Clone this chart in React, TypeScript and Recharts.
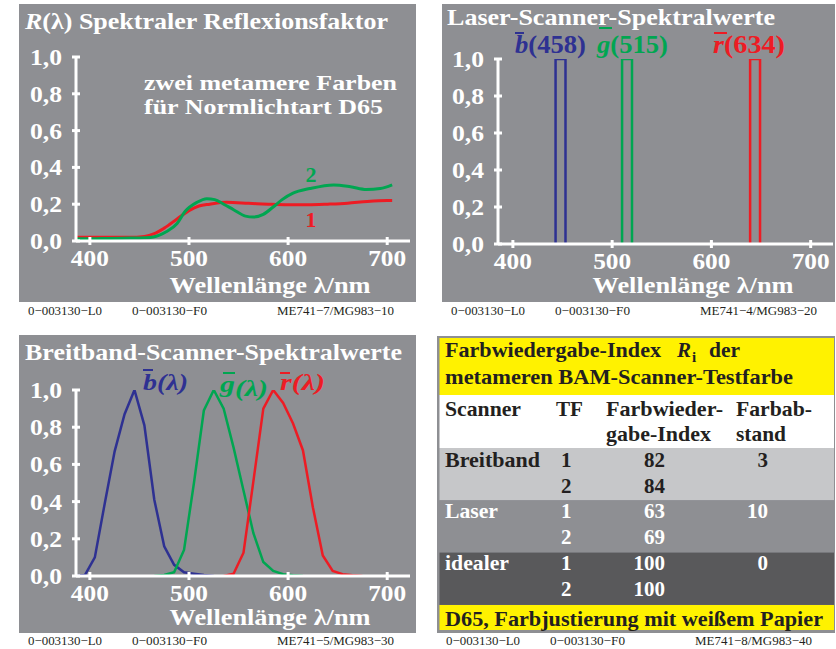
import React from 'react';
import { LineChart, Line, XAxis, YAxis } from 'recharts';

const FONT = '"Liberation Serif", "Times New Roman", serif';
const BG = '#8e8f93';
const BLUE = '#2e3192';
const GREEN = '#00a651';
const RED = '#ed1c24';
const YELLOW = '#fff200';
const INK = '#231f20';

// panel 1: two metameric reflectance curves
const metamerWl1 = [386, 400, 420, 440, 455, 465, 475, 488, 500, 510, 521, 538, 560, 580, 600, 620, 640, 660, 680, 700, 705];
const metamerR1 = [0.02, 0.02, 0.02, 0.02, 0.025, 0.04, 0.07, 0.12, 0.165, 0.19, 0.2, 0.21, 0.205, 0.2, 0.197, 0.197, 0.2, 0.205, 0.215, 0.22, 0.22];
const metamerWl2 = [386, 400, 420, 440, 455, 464, 477, 488, 496, 508, 518, 526, 535, 545, 557, 565, 575, 585, 594, 605, 622, 646, 663, 679, 693, 705];
const metamerR2 = [0.012, 0.012, 0.014, 0.016, 0.018, 0.022, 0.05, 0.095, 0.16, 0.21, 0.23, 0.225, 0.2, 0.17, 0.135, 0.13, 0.145, 0.185, 0.225, 0.26, 0.285, 0.305, 0.295, 0.28, 0.285, 0.305];

// panel 2: laser scanner lines (narrow boxes)
const laserBlueWl = [443, 443, 453, 453];
const laserGreenWl = [510, 510, 520, 520];
const laserRedWl = [639, 639, 649, 649];
const laserBox = [0, 1, 1, 0];

// panel 3: broadband scanner sensitivities
const bandBlueWl = [385, 395, 405, 415, 425, 435, 445, 455, 465, 475, 485, 495, 505, 515, 525];
const bandBlue = [0, 0.005, 0.1, 0.39, 0.67, 0.87, 1.0, 0.81, 0.41, 0.16, 0.06, 0.02, 0.012, 0.005, 0];
const bandGreenWl = [465, 475, 485, 495, 505, 515, 525, 535, 545, 555, 565, 575, 585, 595, 605, 615];
const bandGreen = [0, 0.005, 0.02, 0.14, 0.5, 0.89, 1.0, 0.9, 0.69, 0.46, 0.23, 0.075, 0.027, 0.01, 0.004, 0];
const bandRedWl = [535, 545, 555, 565, 575, 585, 595, 605, 615, 625, 635, 645, 655, 665, 675];
const bandRed = [0, 0.012, 0.125, 0.51, 0.9, 1.0, 0.93, 0.82, 0.675, 0.37, 0.11, 0.027, 0.01, 0.004, 0];

const yTicks = [0, 0.2, 0.4, 0.6, 0.8, 1.0];
const xTicks = [400, 500, 600, 700];

// panel 4: table
const tableRows = [
  { scanner: 'Breitband', w: 95, tf: ['1', '2'], index: ['82', '84'], dist: '3', bg: '#c6c7c9', fg: INK },
  { scanner: 'Laser', w: 53, tf: ['1', '2'], index: ['63', '69'], dist: '10', bg: BG, fg: '#ffffff' },
  { scanner: 'idealer', w: 64, tf: ['1', '2'], index: ['100', '100'], dist: '0', bg: '#59595b', fg: '#ffffff' },
];

const toRows = (wl: number[], v: number[]) => wl.map((w, i) => ({ wl: w, v: v[i] }));

const M = 14;

// text stretched to the width measured on the reference
function Txt({ x, y, w, size, fill, anchor, italic, bold = true, children }: any) {
  return (
    <text
      x={x} y={y} textLength={w} lengthAdjust="spacingAndGlyphs" textAnchor={anchor}
      fontFamily={FONT} fontWeight={bold ? 'bold' : 'normal'} fontStyle={italic ? 'italic' : 'normal'}
      fontSize={size} fill={fill}
    >
      {children}
    </text>
  );
}

function YTick(props: any) {
  const { x, y, payload } = props;
  const ax = x + M;
  return (
    <g>
      <line x1={ax - 4} x2={ax + 4} y1={y} y2={y} stroke="#fff" strokeWidth={3} />
      <Txt x={x} y={y + 8} w={32} size={23} fill="#fff" anchor="end">
        {payload.value.toFixed(1).replace('.', ',')}
      </Txt>
    </g>
  );
}

function XTick(props: any) {
  const { x, y, payload } = props;
  const ay = y - M;
  return (
    <g>
      <line x1={x} x2={x} y1={ay - 4} y2={ay + 4} stroke="#fff" strokeWidth={3} />
      <Txt x={x} y={ay + 25} w={38} size={23} fill="#fff" anchor="middle">
        {payload.value}
      </Txt>
    </g>
  );
}

interface Series { data: { wl: number; v: number }[]; color: string; type: 'linear' | 'monotone'; width: number }

function SpectrumChart({ left, top, width, height, yw, xh, mt, mr, domain, series }: {
  left: number; top: number; width: number; height: number; yw: number; xh: number; mt: number; mr: number;
  domain: [number, number]; series: Series[];
}) {
  return (
    <div style={{ position: 'absolute', left, top, width, height, background: BG }}>
      <LineChart width={width} height={height} margin={{ top: mt, right: mr, bottom: 0, left: 0 }}>
        <XAxis
          type="number" dataKey="wl" domain={domain} ticks={xTicks} height={xh}
          axisLine={{ stroke: '#fff', strokeWidth: 3 }} tickLine={false} tickSize={0} tickMargin={M}
          tick={(p: any) => <XTick {...p} />} allowDataOverflow
        />
        <YAxis
          type="number" dataKey="v" domain={[0, 1]} ticks={yTicks} width={yw}
          axisLine={{ stroke: '#fff', strokeWidth: 3 }} tickLine={false} tickSize={0} tickMargin={M}
          tick={(p: any) => <YTick {...p} />} allowDataOverflow
        />
        {series.map((s, i) => (
          <Line
            key={i} data={s.data} dataKey="v" type={s.type} stroke={s.color} strokeWidth={s.width}
            dot={false} activeDot={false} isAnimationActive={false}
          />
        ))}
      </LineChart>
    </div>
  );
}

function Footer({ x, y, right }: { x: number; y: number; right: string }) {
  return (
    <g>
      <Txt x={x} y={y} w={74} size={13} fill={INK} bold={false}>0−003130−L0</Txt>
      <Txt x={x + 104} y={y} w={75} size={13} fill={INK} bold={false}>0−003130−F0</Txt>
      <Txt x={x + 249} y={y} w={117} size={13} fill={INK} bold={false}>{right}</Txt>
    </g>
  );
}

function Overlay() {
  const rowY = [467, 492.5, 518, 543.5, 570, 595.5];
  return (
    <svg width={836} height={649} style={{ position: 'absolute', left: 0, top: 0, pointerEvents: 'none' }}>
      {/* panel 1 */}
      <Txt x={25} y={29} w={363} size={24} fill="#fff">
        <tspan fontStyle="italic">R</tspan>(λ) Spektraler Reflexionsfaktor
      </Txt>
      <Txt x={144} y={90} w={253} size={21} fill="#fff">zwei metamere Farben</Txt>
      <Txt x={144} y={114} w={239} size={21} fill="#fff">für Normlichtart D65</Txt>
      <Txt x={311} y={182} size={22} fill={GREEN} anchor="middle">2</Txt>
      <Txt x={311} y={227} size={22} fill={RED} anchor="middle">1</Txt>
      <Txt x={270} y={293} w={201} size={24} fill="#fff" anchor="middle">Wellenlänge λ/nm</Txt>
      <Footer x={28} y={315} right="ME741−7/MG983−10" />

      {/* panel 2 */}
      <Txt x={447} y={25} w={328} size={24} fill="#fff">Laser-Scanner-Spektralwerte</Txt>
      <Txt x={515} y={53} w={71} size={25} fill={BLUE}><tspan fontStyle="italic">b</tspan>(458)</Txt>
      <line x1={515} x2={524} y1={33} y2={33} stroke={BLUE} strokeWidth={2} />
      <Txt x={597} y={53} w={71} size={25} fill={GREEN}><tspan fontStyle="italic">g</tspan>(515)</Txt>
      <line x1={599} x2={612} y1={28} y2={28} stroke={GREEN} strokeWidth={2} />
      <Txt x={713} y={53} w={72} size={25} fill={RED}><tspan fontStyle="italic">r</tspan>(634)</Txt>
      <line x1={714} x2={727} y1={33} y2={33} stroke={RED} strokeWidth={2} />
      <Txt x={693} y={293} w={201} size={24} fill="#fff" anchor="middle">Wellenlänge λ/nm</Txt>
      <Footer x={451} y={315} right="ME741−4/MG983−20" />

      {/* panel 3 */}
      <Txt x={25} y={360} w={377} size={24} fill="#fff">Breitband-Scanner-Spektralwerte</Txt>
      <Txt x={143} y={390} w={45} size={24} fill={BLUE} italic>b(λ)</Txt>
      <line x1={143} x2={153} y1={370} y2={370} stroke={BLUE} strokeWidth={2} />
      <Txt x={220} y={392} w={48} size={24} fill={GREEN} italic>g<tspan dy={4}>(λ)</tspan></Txt>
      <line x1={223} x2={235} y1={373} y2={373} stroke={GREEN} strokeWidth={2} />
      <Txt x={280} y={390} w={45} size={24} fill={RED} italic>r(λ)</Txt>
      <line x1={280} x2={290} y1={373} y2={373} stroke={RED} strokeWidth={2} />
      <Txt x={270} y={625} w={201} size={24} fill="#fff" anchor="middle">Wellenlänge λ/nm</Txt>
      <Footer x={28} y={645} right="ME741−5/MG983−30" />

      {/* panel 4: table */}
      <rect x={437} y={336} width={398} height={297} fill={BG} />
      <rect x={439.5} y={338} width={394.5} height={57} fill={YELLOW} />
      <rect x={439.5} y={395} width={394.5} height={53} fill="#ffffff" />
      {tableRows.map((r, i) => (
        <rect key={r.scanner} x={439.5} y={448 + i * 52.3} width={394.5} height={52.3} fill={r.bg} />
      ))}
      <rect x={439.5} y={605} width={394.5} height={25} fill={YELLOW} />
      <Txt x={445} y={357} w={216} size={21} fill={INK}>Farbwiedergabe-Index</Txt>
      <Txt x={677} y={357} size={21} fill={INK} italic>R</Txt>
      <Txt x={692} y={362} size={15} fill={INK}>i</Txt>
      <Txt x={709} y={357} w={31} size={21} fill={INK}>der</Txt>
      <Txt x={445} y={383.5} w={348} size={21} fill={INK}>metameren BAM-Scanner-Testfarbe</Txt>
      <Txt x={445} y={416} w={76} size={21} fill={INK}>Scanner</Txt>
      <Txt x={556} y={416} w={27} size={21} fill={INK}>TF</Txt>
      <Txt x={606} y={416} w={117} size={21} fill={INK}>Farbwieder-</Txt>
      <Txt x={736} y={416} w={76} size={21} fill={INK}>Farbab-</Txt>
      <Txt x={606} y={441} w={105} size={21} fill={INK}>gabe-Index</Txt>
      <Txt x={736} y={441} w={50} size={21} fill={INK}>stand</Txt>
      <Txt x={445} y={626} w={378} size={21} fill={INK}>D65, Farbjustierung mit weißem Papier</Txt>
      {tableRows.map((r, i) => (
        <g key={r.scanner}>
          <Txt x={445} y={rowY[i * 2]} w={r.w} size={21} fill={r.fg}>{r.scanner}</Txt>
          <Txt x={561} y={rowY[i * 2]} size={21} fill={r.fg}>{r.tf[0]}</Txt>
          <Txt x={561} y={rowY[i * 2 + 1]} size={21} fill={r.fg}>{r.tf[1]}</Txt>
          <Txt x={665} y={rowY[i * 2]} size={21} fill={r.fg} anchor="end">{r.index[0]}</Txt>
          <Txt x={665} y={rowY[i * 2 + 1]} size={21} fill={r.fg} anchor="end">{r.index[1]}</Txt>
          <Txt x={768} y={rowY[i * 2]} size={21} fill={r.fg} anchor="end">{r.dist}</Txt>
        </g>
      ))}
      <Footer x={446} y={645} right="ME741−8/MG983−40" />
    </svg>
  );
}

export default function App() {
  return (
    <div style={{ position: 'absolute', left: 0, top: 0, width: 836, height: 649, background: '#fff', overflow: 'hidden' }}>
      <SpectrumChart
        left={19} top={4} width={397} height={298} yw={57} xh={61} mt={53} mr={6} domain={[386, 723]}
        series={[
          { data: toRows(metamerWl1, metamerR1), color: RED, type: 'monotone', width: 3 },
          { data: toRows(metamerWl2, metamerR2), color: GREEN, type: 'monotone', width: 3 },
        ]}
      />
      <SpectrumChart
        left={442} top={4} width={393} height={298} yw={56} xh={58} mt={55} mr={2} domain={[385, 722.5]}
        series={[
          { data: toRows(laserBlueWl, laserBox), color: BLUE, type: 'linear', width: 2.5 },
          { data: toRows(laserGreenWl, laserBox), color: GREEN, type: 'linear', width: 2.5 },
          { data: toRows(laserRedWl, laserBox), color: RED, type: 'linear', width: 2.5 },
        ]}
      />
      <SpectrumChart
        left={19} top={335} width={397} height={298} yw={57} xh={57} mt={55} mr={6} domain={[386, 723]}
        series={[
          { data: toRows(bandBlueWl, bandBlue), color: BLUE, type: 'linear', width: 2.5 },
          { data: toRows(bandGreenWl, bandGreen), color: GREEN, type: 'linear', width: 2.5 },
          { data: toRows(bandRedWl, bandRed), color: RED, type: 'linear', width: 2.5 },
        ]}
      />
      <Overlay />
    </div>
  );
}
